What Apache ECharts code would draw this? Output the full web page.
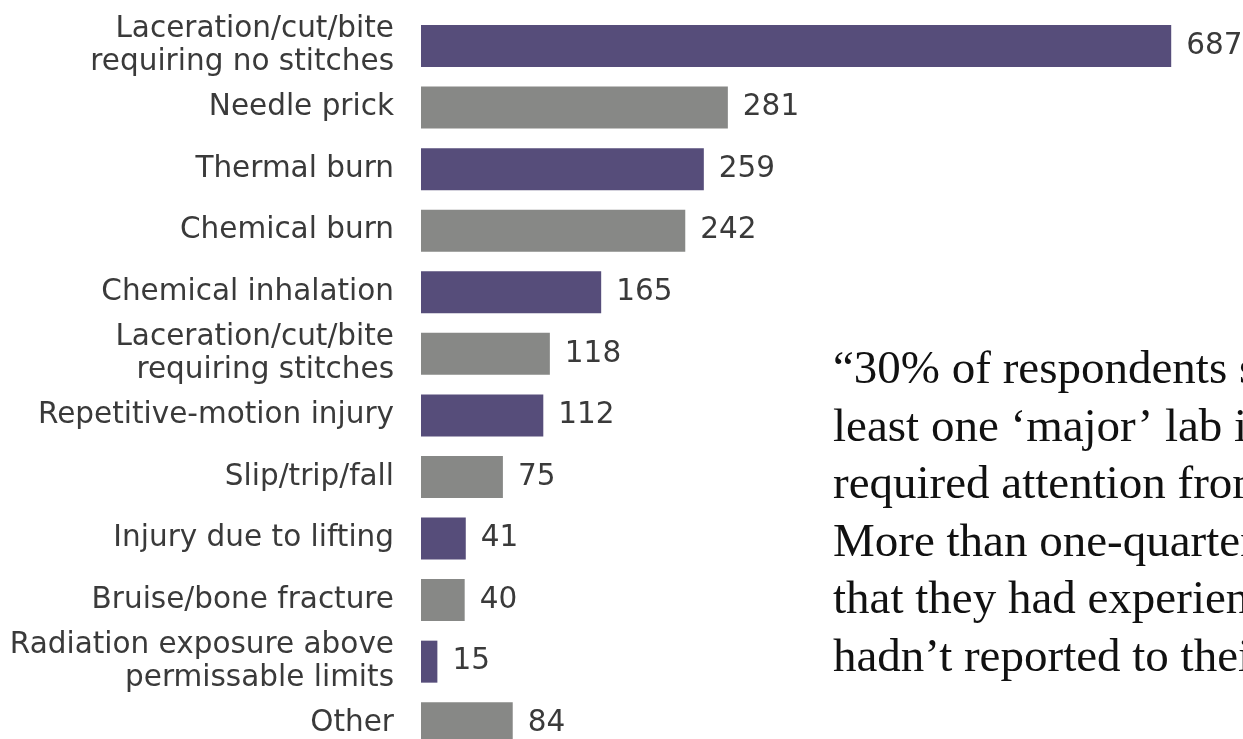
<!DOCTYPE html>
<html>
<head>
<meta charset="utf-8">
<script src="https://cdn.jsdelivr.net/npm/echarts@6/dist/echarts.min.js"></script>
<style>
html,body{margin:0;padding:0;background:#fff;overflow:hidden;width:1243px;height:739px;}
#chart{width:1243px;height:754px;}
</style>
</head>
<body>
<div id="chart"></div>
<script>
const categories = [
  "Laceration/cut/bite\nrequiring no stitches",
  "Needle prick",
  "Thermal burn",
  "Chemical burn",
  "Chemical inhalation",
  "Laceration/cut/bite\nrequiring stitches",
  "Repetitive-motion injury",
  "Slip/trip/fall",
  "Injury due to lifting",
  "Bruise/bone fracture",
  "Radiation exposure above\npermissable limits",
  "Other"
];
const values = [687, 281, 259, 242, 165, 118, 112, 75, 41, 40, 15, 84];
const quoteLines = [
  "\u201C30% of respondents said they had",
  "least one \u2018major\u2019 lab injury that",
  "required attention from a physician.",
  "More than one-quarter said",
  "that they had experienced an injury they",
  "hadn\u2019t reported to their supervisor.\u201D"
];

const palette = ["#564d7a", "#878886"];
const chart = echarts.init(document.getElementById('chart'));
chart.setOption({
  backgroundColor: '#ffffff',
  animation: false,
  grid: { left: 421, right: 3, top: 15.25, bottom: 0, containLabel: false },
  xAxis: { type: 'value', min: 0, max: 750, show: false },
  yAxis: {
    type: 'category',
    data: categories,
    inverse: true,
    axisLine: { show: false },
    axisTick: { show: false },
    axisLabel: {
      margin: 27,
      color: '#3a3a3a',
      fontFamily: 'DejaVu Sans',
      fontSize: 29.5,
      lineHeight: 33,
      align: 'right'
    }
  },
  series: [{
    type: 'bar',
    barWidth: 42,
    data: values.map((v, i) => ({ value: v, itemStyle: { color: palette[i % 2] } })),
    label: {
      show: true,
      position: 'right',
      distance: 15,
      color: '#3a3a3a',
      fontFamily: 'DejaVu Sans',
      fontSize: 29.5
    }
  }],
  graphic: [{
    type: 'text',
    left: 833,
    top: 342,
    silent: true,
    style: {
      text: quoteLines.join('\n'),
      font: '47px "Liberation Serif", serif',
      fill: '#111111',
      lineHeight: 57.5
    }
  }]
});
</script>
</body>
</html>
